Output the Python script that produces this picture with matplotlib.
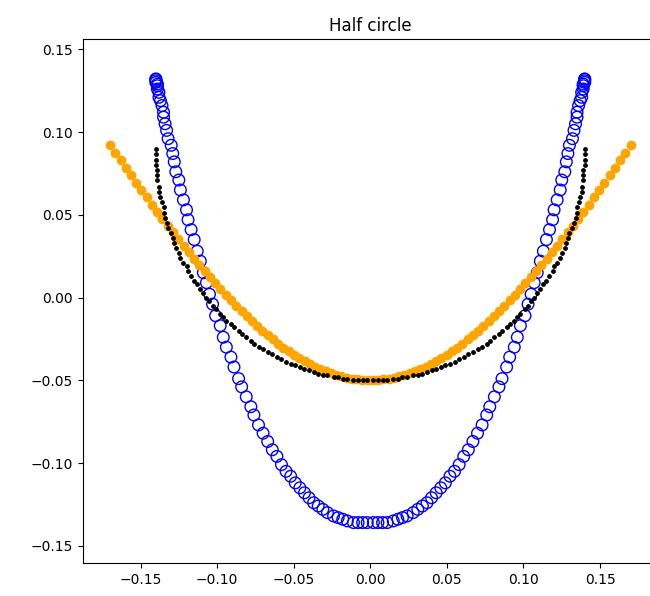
"""
Half circle: sampled points on a half circle (black) plus two other curves
through the same x range (blue rings and orange dots).
"""
import matplotlib
matplotlib.use("Agg")
import matplotlib.pyplot as plt

# x positions shared by the blue rings and the black half circle
x_circle = [
    -0.140, -0.140, -0.140, -0.140, -0.139, -0.139, -0.139, -0.138, -0.138, -0.137,
    -0.136, -0.135, -0.135, -0.134, -0.133, -0.132, -0.130, -0.129, -0.128, -0.127,
    -0.125, -0.124, -0.122, -0.120, -0.119, -0.117, -0.115, -0.113, -0.111, -0.109,
    -0.107, -0.105, -0.103, -0.101, -0.098, -0.096, -0.094, -0.091, -0.089, -0.086,
    -0.084, -0.081, -0.078, -0.076, -0.073, -0.070, -0.067, -0.064, -0.061, -0.058,
    -0.055, -0.052, -0.049, -0.046, -0.043, -0.040, -0.037, -0.034, -0.031, -0.028,
    -0.024, -0.021, -0.018, -0.015, -0.011, -0.008, -0.005, -0.002,
    0.002, 0.005, 0.008, 0.011, 0.015, 0.018, 0.021, 0.024, 0.028, 0.031,
    0.034, 0.037, 0.040, 0.043, 0.046, 0.049, 0.052, 0.055, 0.058, 0.061,
    0.064, 0.067, 0.070, 0.073, 0.076, 0.078, 0.081, 0.084, 0.086, 0.089,
    0.091, 0.094, 0.096, 0.098, 0.101, 0.103, 0.105, 0.107, 0.109, 0.111,
    0.113, 0.115, 0.117, 0.119, 0.120, 0.122, 0.124, 0.125, 0.127, 0.128,
    0.129, 0.130, 0.132, 0.133, 0.134, 0.135, 0.135, 0.136, 0.137, 0.138,
    0.138, 0.139, 0.139, 0.139, 0.140, 0.140, 0.140, 0.140,
]

y_blue = [
    0.132, 0.132, 0.131, 0.130, 0.129, 0.128, 0.126, 0.124, 0.121, 0.119,
    0.116, 0.112, 0.109, 0.105, 0.101, 0.096, 0.092, 0.087, 0.082, 0.076,
    0.071, 0.065, 0.059, 0.053, 0.047, 0.041, 0.035, 0.028, 0.022, 0.015,
    0.009, 0.002, -0.004, -0.011, -0.017, -0.024, -0.030, -0.036, -0.042, -0.049,
    -0.054, -0.060, -0.066, -0.071, -0.077, -0.082, -0.087, -0.092, -0.096, -0.101,
    -0.105, -0.108, -0.112, -0.115, -0.118, -0.121, -0.124, -0.126, -0.128, -0.130,
    -0.132, -0.133, -0.134, -0.135, -0.136, -0.136, -0.136, -0.136,
    -0.136, -0.136, -0.136, -0.136, -0.135, -0.134, -0.133, -0.132, -0.130, -0.128,
    -0.126, -0.124, -0.121, -0.118, -0.115, -0.112, -0.108, -0.105, -0.101, -0.096,
    -0.092, -0.087, -0.082, -0.077, -0.071, -0.066, -0.060, -0.054, -0.049, -0.042,
    -0.036, -0.030, -0.024, -0.017, -0.011, -0.004, 0.002, 0.009, 0.015, 0.022,
    0.028, 0.035, 0.041, 0.047, 0.053, 0.059, 0.065, 0.071, 0.076, 0.082,
    0.087, 0.092, 0.096, 0.101, 0.105, 0.109, 0.112, 0.116, 0.119, 0.121,
    0.124, 0.126, 0.128, 0.129, 0.130, 0.131, 0.132, 0.132,
]

y_black = [
    0.090, 0.087, 0.083, 0.080, 0.077, 0.074, 0.071, 0.067, 0.064, 0.061,
    0.058, 0.055, 0.051, 0.048, 0.045, 0.042, 0.039, 0.036, 0.033, 0.030,
    0.027, 0.024, 0.021, 0.019, 0.016, 0.013, 0.010, 0.008, 0.005, 0.003,
    0.000, -0.002, -0.005, -0.007, -0.010, -0.012, -0.014, -0.016, -0.018, -0.020,
    -0.022, -0.024, -0.026, -0.028, -0.030, -0.031, -0.033, -0.034, -0.036, -0.037,
    -0.039, -0.040, -0.041, -0.042, -0.043, -0.044, -0.045, -0.046, -0.047, -0.047,
    -0.048, -0.048, -0.049, -0.049, -0.050, -0.050, -0.050, -0.050,
    -0.050, -0.050, -0.050, -0.050, -0.049, -0.049, -0.048, -0.048, -0.047, -0.047,
    -0.046, -0.045, -0.044, -0.043, -0.042, -0.041, -0.040, -0.039, -0.037, -0.036,
    -0.034, -0.033, -0.031, -0.030, -0.028, -0.026, -0.024, -0.022, -0.020, -0.018,
    -0.016, -0.014, -0.012, -0.010, -0.007, -0.005, -0.002, 0.000, 0.003, 0.005,
    0.008, 0.010, 0.013, 0.016, 0.019, 0.021, 0.024, 0.027, 0.030, 0.033,
    0.036, 0.039, 0.042, 0.045, 0.048, 0.051, 0.055, 0.058, 0.061, 0.064,
    0.067, 0.071, 0.074, 0.077, 0.080, 0.083, 0.087, 0.090,
]

x_orange = [
    -0.1700, -0.1666, -0.1631, -0.1597, -0.1563, -0.1528, -0.1494, -0.1460, -0.1425, -0.1391,
    -0.1357, -0.1322, -0.1288, -0.1254, -0.1219, -0.1185, -0.1151, -0.1116, -0.1082, -0.1047,
    -0.1013, -0.0979, -0.0944, -0.0910, -0.0876, -0.0841, -0.0807, -0.0773, -0.0738, -0.0704,
    -0.0670, -0.0635, -0.0601, -0.0567, -0.0532, -0.0498, -0.0464, -0.0429, -0.0395, -0.0361,
    -0.0326, -0.0292, -0.0258, -0.0223, -0.0189, -0.0155, -0.0120, -0.0086, -0.0052, -0.0017,
    0.0017, 0.0052, 0.0086, 0.0120, 0.0155, 0.0189, 0.0223, 0.0258, 0.0292, 0.0326,
    0.0361, 0.0395, 0.0429, 0.0464, 0.0498, 0.0532, 0.0567, 0.0601, 0.0635, 0.0670,
    0.0704, 0.0738, 0.0773, 0.0807, 0.0841, 0.0876, 0.0910, 0.0944, 0.0979, 0.1013,
    0.1047, 0.1082, 0.1116, 0.1151, 0.1185, 0.1219, 0.1254, 0.1288, 0.1322, 0.1357,
    0.1391, 0.1425, 0.1460, 0.1494, 0.1528, 0.1563, 0.1597, 0.1631, 0.1666, 0.1700,
]

y_orange = [
    0.0921, 0.0874, 0.0829, 0.0783, 0.0738, 0.0694, 0.0649, 0.0606, 0.0562, 0.0519,
    0.0477, 0.0435, 0.0394, 0.0353, 0.0313, 0.0274, 0.0235, 0.0197, 0.0159, 0.0122,
    0.0086, 0.0051, 0.0017, -0.0017, -0.0050, -0.0082, -0.0113, -0.0143, -0.0172, -0.0200,
    -0.0227, -0.0253, -0.0278, -0.0302, -0.0324, -0.0345, -0.0365, -0.0384, -0.0402, -0.0418,
    -0.0432, -0.0446, -0.0458, -0.0468, -0.0477, -0.0485, -0.0491, -0.0495, -0.0498, -0.0500,
    -0.0500, -0.0498, -0.0495, -0.0491, -0.0485, -0.0477, -0.0468, -0.0458, -0.0446, -0.0432,
    -0.0418, -0.0402, -0.0384, -0.0365, -0.0345, -0.0324, -0.0302, -0.0278, -0.0253, -0.0227,
    -0.0200, -0.0172, -0.0143, -0.0113, -0.0082, -0.0050, -0.0017, 0.0017, 0.0051, 0.0086,
    0.0122, 0.0159, 0.0197, 0.0235, 0.0274, 0.0313, 0.0353, 0.0394, 0.0435, 0.0477,
    0.0519, 0.0562, 0.0606, 0.0649, 0.0694, 0.0738, 0.0783, 0.0829, 0.0874, 0.0921,
]


def main():
    fig = plt.figure(figsize=(6.5, 5.96), dpi=100)
    # the right spine sits just past the edge of the canvas, as in the original
    ax = fig.add_axes([0.1272, 0.0549, 0.885, 0.879])

    ax.scatter(x_circle, y_blue, s=70, facecolors='none', edgecolors='b', zorder=2)
    ax.scatter(x_orange, y_orange, s=36, color='orange', zorder=3)
    ax.scatter(x_circle, y_black, s=6, color='k', zorder=4)

    ax.set_xlim(-0.1878, 0.1878)
    ax.set_ylim(-0.1606, 0.156)
    ax.set_title("Half circle")

    fig.savefig("out.png", dpi=100)
    plt.close(fig)


main()
